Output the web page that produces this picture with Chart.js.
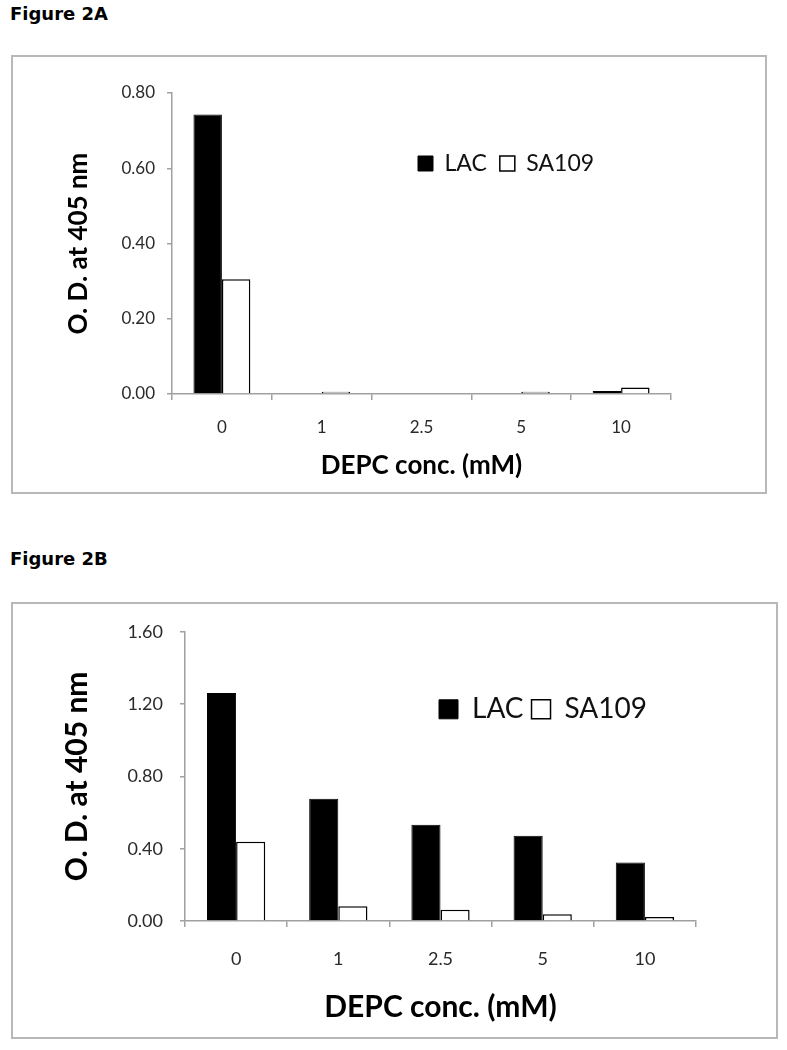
<!DOCTYPE html>
<html><head><meta charset="utf-8">
<script src="https://cdn.jsdelivr.net/npm/chart.js@4.4.1/dist/chart.umd.min.js"></script>
<style>
html,body{margin:0;padding:0;background:#fff;}
body{width:787px;height:1050px;position:relative;overflow:hidden;}
.fig{position:absolute;left:10px;font:bold 18px/18px "DejaVu Sans",Verdana,sans-serif;color:#000;white-space:nowrap;}
.box{position:absolute;border:2px solid #b8b8b8;background:#fff;}
.box canvas{display:block;}
</style></head><body>
<div class="fig" style="top:5px">Figure 2A</div>
<div class="box" style="left:11px;top:55px;width:752px;height:435px"><canvas id="cA" width="752" height="435"></canvas></div>
<div class="fig" style="top:550px">Figure 2B</div>
<div class="box" style="left:11px;top:602px;width:763px;height:433px"><canvas id="cB" width="763" height="433"></canvas></div>
<script>
// ---- data ----
const categories = ['0', '1', '2.5', '5', '10'];
const seriesNames = ['LAC', 'SA109'];
const lacA = [0.743, 0.000, 0.000, 0.000, 0.008];
const sa109A = [0.305, 0.006, 0.002, 0.006, 0.017];
const lacB = [1.262, 0.677, 0.532, 0.471, 0.324];
const sa109B = [0.438, 0.081, 0.062, 0.038, 0.022];
const yTicksA = [0.00, 0.20, 0.40, 0.60, 0.80];
const yTicksB = [0.00, 0.40, 0.80, 1.20, 1.60];
const xTitle = 'DEPC conc. (mM)';
const yTitle = 'O. D. at 405 nm';

Chart.defaults.font.family = 'Lato, "Open Sans", sans-serif';
Chart.defaults.animation = false;

// moves the (horizontal) legend inside the plot area
const legendPlace = {
  id: 'legendPlace',
  afterLayout(chart, args, o) {
    const lg = chart.legend;
    if (!lg || o.x === undefined) return;
    const pad = lg.options.labels.padding;
    lg.left = chart.chartArea.left + o.x - pad;
    lg.right = lg.left + 2000;
    lg.width = 2000;
    lg.top = chart.chartArea.top + o.y - pad - Math.max((o.fontSize - o.boxSize) / 2, 0);
    lg.bottom = lg.top + 200;
    lg.height = 200;
  }
};

function makeChart(id, lac, sa, yTicks, s) {
  const ctx = document.getElementById(id);
  return new Chart(ctx, {
    type: 'bar',
    data: {
      labels: categories,
      datasets: [
        { label: seriesNames[0], data: lac, backgroundColor: '#000', borderColor: '#000', borderWidth: 1 },
        { label: seriesNames[1], data: sa, backgroundColor: '#fff', borderColor: '#000', borderWidth: 1.5 }
      ]
    },
    plugins: [legendPlace],
    options: {
      responsive: false,
      devicePixelRatio: 1,
      events: [],
      layout: { padding: s.padding },
      datasets: { bar: { categoryPercentage: 0.57, barPercentage: 1.0 } },
      plugins: {
        tooltip: { enabled: false },
        legend: {
          position: 'top',
          align: 'start',
          maxHeight: 1,
          labels: {
            boxWidth: s.legendBox, boxHeight: s.legendBox,
            font: { size: s.legendFont }, color: '#111', padding: s.legendPad
          }
        },
        legendPlace: { x: s.legendX, y: s.legendY, fontSize: s.legendFont, boxSize: s.legendBox }
      },
      scales: {
        x: {
          grid: { offset: true, drawOnChartArea: false, drawTicks: true, tickLength: 6, color: '#a0a0a0', lineWidth: 1.5 },
          border: { display: true, color: '#a0a0a0', width: 1.5 },
          ticks: { font: { size: s.tickFont }, color: '#2a2a2a', padding: s.xTickPad, maxRotation: 0 },
          title: { display: true, text: xTitle, color: '#000', font: { size: s.titleFont, weight: 'bold' }, padding: { top: 0, bottom: s.xTitlePad } },
          afterFit: sc => { sc.height = s.xHeight; }
        },
        y: {
          min: yTicks[0], max: yTicks[yTicks.length - 1],
          afterBuildTicks: sc => { sc.ticks = yTicks.map(v => ({ value: v })); },
          grid: { drawOnChartArea: false, drawTicks: true, tickLength: 5, color: '#a0a0a0', lineWidth: 1.5 },
          border: { display: true, color: '#a0a0a0', width: 1.5 },
          ticks: { font: { size: s.tickFont }, color: '#2a2a2a', padding: s.yTickPad, callback: v => Number(v).toFixed(2) },
          title: { display: true, text: yTitle, color: '#000', font: { size: s.titleFont, weight: 'bold' }, padding: { top: s.yTitlePad, bottom: 0 } },
          afterFit: sc => { sc.width = s.yWidth; }
        }
      }
    }
  });
}

makeChart('cA', lacA, sa109A, yTicksA, {
  padding: { left: 0, top: 35, right: 94, bottom: 0 },
  yWidth: 159, xHeight: 98,
  tickFont: 17, xTickPad: 17, yTickPad: 12,
  titleFont: 26, xTitlePad: 11, yTitlePad: 50,
  legendBox: 15, legendFont: 23, legendPad: 13, legendX: 246, legendY: 63
});
makeChart('cB', lacB, sa109B, yTicksB, {
  padding: { left: 0, top: 21, right: 80, bottom: 0 },
  yWidth: 172, xHeight: 116,
  tickFont: 18, xTickPad: 21, yTickPad: 17,
  titleFont: 30, xTitlePad: 12, yTitlePad: 46,
  legendBox: 19, legendFont: 28, legendPad: 8, legendX: 254, legendY: 68
});
</script>
</body></html>
